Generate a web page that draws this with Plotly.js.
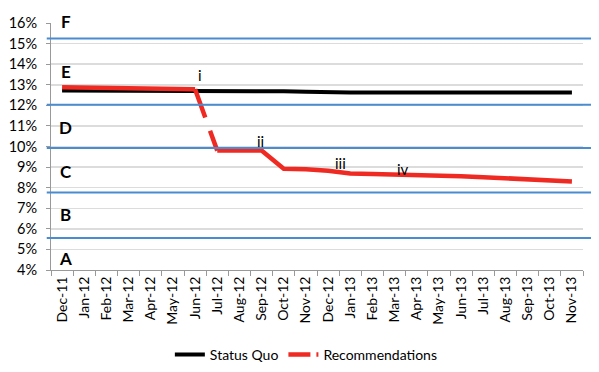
<!DOCTYPE html>
<html><head><meta charset="utf-8">
<script src="https://cdn.plot.ly/plotly-3.0.1.min.js"></script>
<style>html,body{margin:0;padding:0;background:#fff}#chart{width:599px;height:372px}</style>
</head><body><div id="chart"></div>
<script>
const months = ['Dec-11','Jan-12','Feb-12','Mar-12','Apr-12','May-12','Jun-12','Jul-12','Aug-12','Sep-12','Oct-12','Nov-12','Dec-12','Jan-13','Feb-13','Mar-13','Apr-13','May-13','Jun-13','Jul-13','Aug-13','Sep-13','Oct-13','Nov-13'];
const statusQuo = [12.72,12.72,12.72,12.72,12.72,12.72,12.72,12.68,12.68,12.68,12.68,12.66,12.62,12.62,12.62,12.62,12.62,12.62,12.62,12.62,12.62,12.62,12.62,12.62];
const recommendations = [12.88,12.87,12.86,12.84,12.82,12.8,12.78,9.8,9.8,9.8,8.92,8.9,8.82,8.69,8.67,8.65,8.61,8.58,8.55,8.51,8.47,8.42,8.37,8.3];
const gradeBoundaries = [5.56,7.76,9.93,12.03,15.25];
const gradeLetters = ['A','B','C','D','E','F'];
const gradeLetterY = [4.56,6.69,8.8,10.94,13.62,16.08];
const stepLabels = ['i','ii','iii','iv'];
const stepX = [6.22,8.97,12.58,15.38];
const stepY = [13.46,10.26,9.22,8.9];

const Y_MIN = 4, Y_MAX = 16;
const RED = '#ef2a22';
const traces = [
  {x: months, y: statusQuo, type:'scatter', mode:'lines', name:'Status Quo', line:{color:'#000', width:4}},
  {x: months.slice(0,7), y: recommendations.slice(0,7), type:'scatter', mode:'lines', showlegend:false, line:{color:RED, width:4.5}},
  {x: months.slice(6,8), y: recommendations.slice(6,8), type:'scatter', mode:'lines', showlegend:false, line:{color:RED, width:4.5, dash:'30px,14px,40px'}},
  {x: months.slice(7), y: recommendations.slice(7), type:'scatter', mode:'lines', showlegend:false, line:{color:RED, width:4.5}},
  {x:[null], y:[null], type:'scatter', mode:'lines', name:'Recommendations', line:{color:RED, width:4.5, dash:'22px,6px,3px,40px'}}
];

const shapes = gradeBoundaries.map(v => ({type:'line', xref:'paper', yref:'y', x0:-0.008, x1:1.015, y0:v, y1:v, line:{color:'#4a8ccf', width:2}, layer:'above'}));

const annotations = [];
gradeLetters.forEach((t,i) => annotations.push({text:t, xref:'paper', yref:'paper', x:0.028, y:(gradeLetterY[i]-Y_MIN)/(Y_MAX-Y_MIN), xanchor:'center', yanchor:'middle', showarrow:false, font:{size:17, color:'#000', family:'Lato, sans-serif', weight:'bold'}}));
stepLabels.forEach((t,i) => annotations.push({text:t, xref:'x', yref:'y', x:stepX[i], y:stepY[i], xanchor:'center', yanchor:'middle', showarrow:false, font:{size:15, color:'#000'}}));

const layout = {
  width:599, height:372,
  margin:{l:51, r:16, t:23, b:102, pad:0, autoexpand:false},
  paper_bgcolor:'#fff', plot_bgcolor:'#fff',
  font:{family:'Lato, "Open Sans", sans-serif', size:14, color:'#000'},
  showlegend:true,
  legend:{orientation:'h', x:0.48, xanchor:'center', y:-0.344, yanchor:'middle', font:{size:14, color:'#000'}, bgcolor:'rgba(0,0,0,0)'},
  xaxis:{type:'category', categoryorder:'array', categoryarray:months, tickangle:-90, tickson:'boundaries', ticks:'outside', ticklen:5, tickcolor:'#999', showline:true, linecolor:'#999', linewidth:1, showgrid:false, tickfont:{size:14, color:'#000'}, range:[-0.5,23.5], automargin:false, fixedrange:true},
  yaxis:{range:[Y_MIN,Y_MAX], dtick:1, ticksuffix:'%', ticks:'outside', ticklen:4, tickcolor:'#999', showline:true, linecolor:'#999', linewidth:1, gridcolor:'#dcdcdc', gridwidth:1.5, zeroline:false, tickfont:{size:14.5, color:'#000'}, ticklabelstandoff:6, automargin:false, fixedrange:true},
  shapes: shapes,
  annotations: annotations
};
Plotly.newPlot('chart', traces, layout, {displayModeBar:false, staticPlot:true});
</script></body></html>
